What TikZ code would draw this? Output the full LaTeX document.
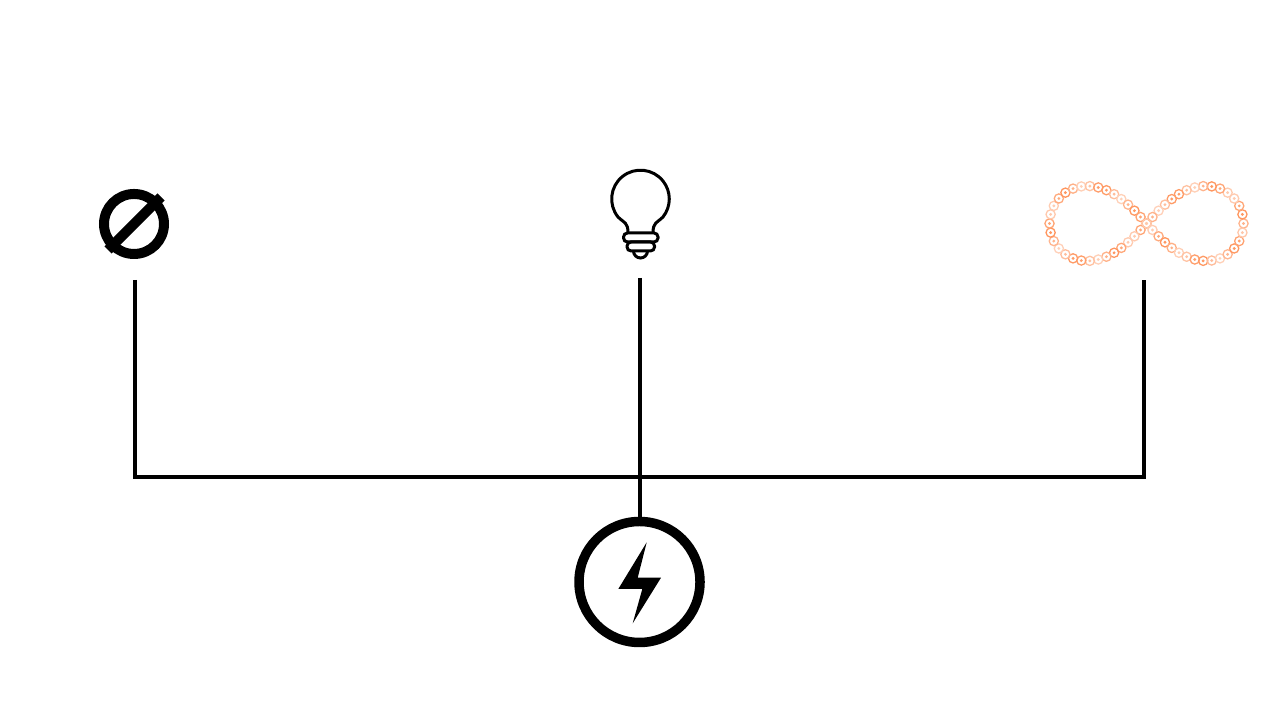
\documentclass[tikz,border=0pt]{standalone}
\definecolor{ringorange}{RGB}{255,150,95}
\tikzset{
    wire/.style={line width=0.4mm},
    iconline/.style={line width=0.3mm},
    ringbead/.style={line width=0.13mm, circle, inner sep=0pt, minimum size=0.092cm},
    ringcore/.style={circle, inner sep=0pt, minimum size=0.032cm}
}
\begin{document}
\begin{tikzpicture}
    \useasboundingbox (0, 0) rectangle (12.8, 7.2);

    % Stop sign
    \node[draw, line width=1mm, circle, inner sep=0pt, minimum size=0.6cm] (stop) at (1.34, 4.96) {};
    \draw[line width=1mm] (1.08, 4.70) -- (1.61, 5.23);

    % Bulb
    \coordinate (bulb) at (6.405, 5.21);
    \draw[iconline] (6.28, 4.87) .. controls (6.28, 4.98) and (6.24, 4.97) .. (6.18, 5.03)
        arc[start angle=218.7, end angle=-38.7, radius=0.288]
        .. controls (6.57, 4.97) and (6.53, 4.98) .. (6.53, 4.87);
    \draw[iconline, rounded corners=0.04cm] (6.235, 4.78) rectangle (6.58, 4.87);
    \draw[iconline, rounded corners=0.04cm] (6.27, 4.69) rectangle (6.545, 4.78);
    \draw[iconline] (6.335, 4.69) arc[start angle=180, end angle=360, radius=0.07];

    % Infinity loop (60 beads)
    \foreach \i in {0,...,59} {
        \pgfmathsetmacro{\u}{\i*6}
        \pgfmathsetmacro{\t}{\u - 4.9*sin(2*\u)}
        \pgfmathsetmacro{\loopx}{11.465 + 0.97*cos(\t)/(1 + sin(\t)*sin(\t))}
        \pgfmathsetmacro{\loopy}{4.965 + 1.06*sin(\t)*cos(\t)/(1 + sin(\t)*sin(\t))}
        \pgfmathsetmacro{\shade}{72 + 28*sin(\i*77)}
        \node[ringbead, draw=ringorange!\shade] (bead\i) at (\loopx, \loopy) {};
        \node[ringcore, fill=ringorange!\shade] at (bead\i) {};
    }

    % Power sign
    \node[draw, line width=0.95mm, circle, inner sep=0pt, minimum size=1.21cm] (power) at (6.395, 1.38) {};
    \fill (6.467, 1.777) -- (6.377, 1.423) -- (6.61, 1.423) -- (6.327, 0.967)
        -- (6.423, 1.31) -- (6.183, 1.31) -- cycle;

    % Wires
    \coordinate (stopend) at (1.35, 4.40);
    \coordinate (lampend) at (6.40, 4.42);
    \coordinate (loopend) at (11.44, 4.40);
    \coordinate (bus) at (6.40, 2.43);
    \draw[wire] (stopend) |- (bus) -| (loopend);
    \draw[wire] (lampend) -- (lampend |- power.north);
\end{tikzpicture}
\end{document}
